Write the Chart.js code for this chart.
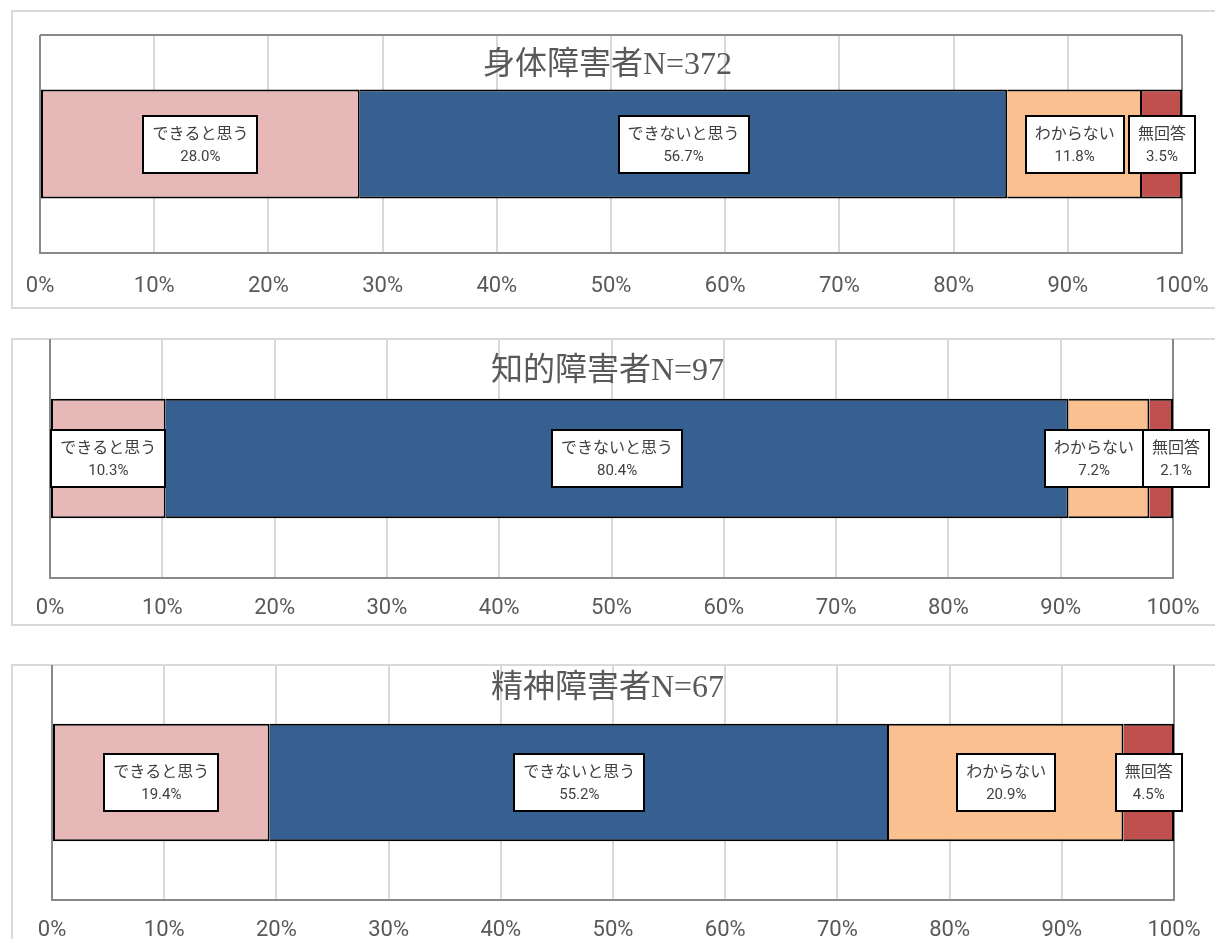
<!DOCTYPE html>
<html lang="ja">
<head>
<meta charset="utf-8">
<title>障害者アンケート</title>
<script src="https://cdn.jsdelivr.net/npm/chart.js@4.4.1/dist/chart.umd.min.js"></script>
<style>
  html, body { margin: 0; padding: 0; background: #fff; width: 1215px; height: 939px; overflow: hidden; }
  .frame { position: absolute; left: 11px; width: 1230px; border: 2px solid #d9d9d9; box-sizing: border-box; }
  .panel { position: absolute; left: 0; width: 1215px; }
  canvas { display: block; }
</style>
</head>
<body>
<div class="frame" style="top:10px;height:299px"></div>
<div class="frame" style="top:338px;height:288px"></div>
<div class="frame" style="top:664px;height:300px"></div>
<div class="panel" style="top:10px"><canvas id="c1" width="1215" height="298"></canvas></div>
<div class="panel" style="top:338px"><canvas id="c2" width="1215" height="287"></canvas></div>
<div class="panel" style="top:664px"><canvas id="c3" width="1215" height="275"></canvas></div>
<script>
// --- データ ---
const categories = ['できると思う', 'できないと思う', 'わからない', '無回答'];
const groupTitles = ['身体障害者N=372', '知的障害者N=97', '精神障害者N=67'];
const physicalValues = [28.0, 56.7, 11.8, 3.5];
const intellectualValues = [10.3, 80.4, 7.2, 2.1];
const mentalValues = [19.4, 55.2, 20.9, 4.5];
const axisMax = 100;
const axisStep = 10;

const barColors = ['#E6B9B8', '#366092', '#FAC090', '#C0504D'];

// --- プロット枠 ---
const plotFrame = {
    id: 'plotFrame',
    beforeDatasetsDraw(chart, args, opts) {
        const { ctx, chartArea: a } = chart;
        ctx.save();
        ctx.strokeStyle = '#898989';
        ctx.lineWidth = 2;
        ctx.beginPath();
        if (opts.top) { ctx.moveTo(a.left, a.top); ctx.lineTo(a.right, a.top); }
        ctx.moveTo(a.left, a.top);
        ctx.lineTo(a.left, a.bottom);
        ctx.lineTo(a.right, a.bottom);
        ctx.lineTo(a.right, a.top);
        ctx.stroke();
        ctx.restore();
    }
};

// --- タイトル (プロット内に重ねる) ---
const innerTitle = {
    id: 'innerTitle',
    afterDraw(chart, args, opts) {
        const ctx = chart.ctx;
        ctx.save();
        ctx.font = '32px "Liberation Serif", "Noto Sans CJK JP", serif';
        ctx.fillStyle = '#595959';
        ctx.textAlign = 'center';
        ctx.textBaseline = 'middle';
        ctx.fillText(opts.text, chart.width / 2, opts.y);
        ctx.restore();
    }
};

// --- データラベル (白い枠) ---
const boxLabels = {
    id: 'boxLabels',
    afterDatasetsDraw(chart) {
        const ctx = chart.ctx;
        const fontName = '16px "Noto Sans CJK JP", sans-serif';
        const fontVal = '15px Roboto, sans-serif';
        const boxH = 57;
        let boxes = [];
        chart.data.datasets.forEach((ds, i) => {
            const bar = chart.getDatasetMeta(i).data[0];
            const p = bar.getProps(['x', 'base', 'y'], true);
            const val = ds.data[0].toFixed(1) + '%';
            ctx.font = fontName;
            let w = ctx.measureText(ds.label).width;
            ctx.font = fontVal;
            w = Math.max(w, ctx.measureText(val).width) + 18;
            boxes.push({ cx: (p.x + p.base) / 2, cy: p.y, w, name: ds.label, val });
        });
        // 重なりを左右に押し広げる
        for (let i = 0; i < boxes.length - 1; i++) {
            const a = boxes[i], b = boxes[i + 1];
            const over = (a.cx + a.w / 2) - (b.cx - b.w / 2);
            if (over > 0) { a.cx -= over / 2; b.cx += over / 2; }
        }
        ctx.save();
        boxes.forEach(b => {
            const left = Math.round(b.cx - b.w / 2), top = Math.round(b.cy - boxH / 2);
            ctx.fillStyle = '#fff';
            ctx.fillRect(left, top, b.w, boxH);
            ctx.strokeStyle = '#000';
            ctx.lineWidth = 2;
            ctx.strokeRect(left, top, Math.round(b.w), boxH);
            ctx.fillStyle = '#404040';
            ctx.textAlign = 'center';
            ctx.textBaseline = 'middle';
            ctx.font = fontName;
            ctx.fillText(b.name, b.cx, top + 17);
            ctx.font = fontVal;
            ctx.fillText(b.val, b.cx, top + 41);
        });
        ctx.restore();
    }
};

function makeChart(id, title, values, pad, axisH, titleY, topBorder, tickPad) {
    const ctx = document.getElementById(id).getContext('2d');
    return new Chart(ctx, {
        type: 'bar',
        data: {
            labels: [title],
            datasets: categories.map((c, i) => ({
                label: c,
                data: [values[i]],
                backgroundColor: barColors[i],
                borderColor: '#000',
                borderWidth: 2,
                borderSkipped: i === 0 ? false : 'start',
                barPercentage: 0.5,
                categoryPercentage: 1
            }))
        },
        options: {
            indexAxis: 'y',
            responsive: false,
            animation: false,
            layout: { padding: { top: pad.top, left: pad.left, right: pad.right, bottom: 0 } },
            plugins: {
                legend: { display: false },
                tooltip: { enabled: false },
                plotFrame: { top: topBorder },
                innerTitle: { text: title, y: titleY }
            },
            scales: {
                x: {
                    stacked: true,
                    min: 0,
                    max: axisMax,
                    ticks: {
                        stepSize: axisStep,
                        padding: tickPad,
                        color: '#595959',
                        font: { family: 'Roboto', size: 22 },
                        callback: v => v + '%'
                    },
                    grid: { color: '#d9d9d9', lineWidth: 2, drawTicks: false },
                    border: { display: false },
                    afterFit: s => {
                        s.height = axisH;
                        s.paddingLeft = 0;
                        s.paddingRight = 0;
                    }
                },
                y: { stacked: true, display: false }
            }
        },
        plugins: [plotFrame, innerTitle, boxLabels]
    });
}

makeChart('c1', groupTitles[0], physicalValues, { top: 25, left: 40, right: 33 }, 55, 56, true, 20);
makeChart('c2', groupTitles[1], intellectualValues, { top: 1, left: 50, right: 42 }, 47, 34, false, 17);
makeChart('c3', groupTitles[2], mentalValues, { top: 1, left: 52, right: 41 }, 39, 25, false, 17);
</script>
</body>
</html>
